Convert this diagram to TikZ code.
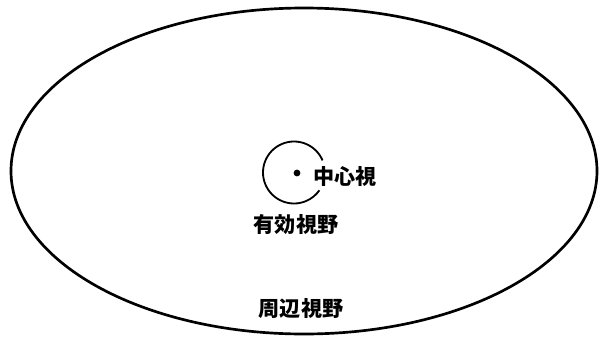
\documentclass[tikz,border=0pt]{standalone}
\usepackage{fontspec}
\newfontfamily\jpfont{Noto Sans CJK JP}
\tikzset{
  field/.style={line width=1.9pt, black},
  fovea/.style={line width=1.3pt, black},
  fixpoint/.style={circle, fill=black, minimum size=0.17cm, inner sep=0pt},
  fieldlabel/.style={font=\jpfont\bfseries\fontsize{15}{18}\selectfont, inner sep=0pt}
}
\begin{document}
\begin{tikzpicture}[x=0.025cm, y=0.025cm]
  \useasboundingbox (0,0) rectangle (604,338);
  \coordinate (O) at (304,167);
  \coordinate (C) at (294,165.5);

  \draw[field] (O) ellipse[x radius=293, y radius=163];
  \draw[fovea] ([shift={(23:31)}]C) arc[start angle=23, end angle=325, radius=31];

  \node[fixpoint] (dot) at (297,165) {};
  \node[fieldlabel] (central) at (345,162) {中心視};
  \node[fieldlabel] (useful) at (296,113) {有効視野};
  \node[fieldlabel] (peripheral) at (301,29) {周辺視野};
\end{tikzpicture}
\end{document}
